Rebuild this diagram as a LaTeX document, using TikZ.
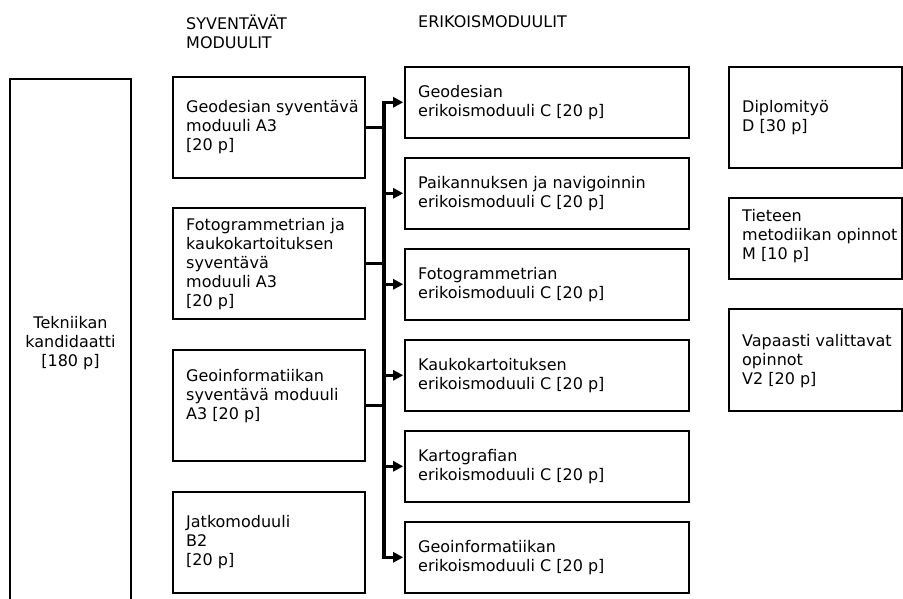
\documentclass[tikz,border=0pt]{standalone}
\usepackage{fontspec}
\setmainfont{DejaVu Sans}
\usetikzlibrary{arrows.meta}
\begin{document}
\begin{tikzpicture}[x=1pt,y=-1pt,
  txt/.style={font=\fontsize{16}{19}\selectfont},
  box/.style={draw,line width=1.6pt,anchor=north west,inner sep=0pt},
  lbl/.style={txt,anchor=west,align=left,inner sep=0pt},
  conn/.style={line width=3.2pt},
  arr/.style={line width=3.2pt,-{Triangle[length=10pt,width=10pt]},shorten >=0.8pt}
]
\useasboundingbox (0,0) rectangle (903,599);

% headers
\node[lbl] (h1) at (186,31.5) {SYVENTÄVÄT\\MODUULIT};
\node[lbl] (h2) at (418,22) {ERIKOISMODUULIT};

% Tekniikan kandidaatti
\draw[line width=1.6pt] (10,602) -- (10,79) -- (131,79) -- (131,602);
\node[txt,align=center,inner sep=0pt] (tk) at (70.5,343) {Tekniikan\\kandidaatti\\{[180 p]}};

% left column
\node[box,minimum width=192pt,minimum height=101pt] (A) at (172,76) {};
\node[box,minimum width=192pt,minimum height=111pt] (B) at (172,207) {};
\node[box,minimum width=192pt,minimum height=111pt] (C) at (172,349) {};
\node[box,minimum width=192pt,minimum height=101pt] (D) at (172,491) {};
\node[lbl] (At) at (186,127.5) {Geodesian syventävä\\moduuli A3\\{[20 p]}};
\node[lbl] (Bt) at (186,264) {Fotogrammetrian ja\\kaukokartoituksen\\syventävä\\moduuli A3\\{[20 p]}};
\node[lbl] (Ct) at (186,396) {Geoinformatiikan\\syventävä moduuli\\A3 [20 p]};
\node[lbl] (Dt) at (186,542) {Jatkomoduuli\\B2\\{[20 p]}};

% middle column
\foreach \i/\y/\t in {1/66/{Geodesian\\erikoismoduuli C [20 p]},
                      2/157/{Paikannuksen ja navigoinnin\\erikoismoduuli C [20 p]},
                      3/248/{Fotogrammetrian\\erikoismoduuli C [20 p]},
                      4/339/{Kaukokartoituksen\\erikoismoduuli C [20 p]},
                      5/430/{Kartografian\\erikoismoduuli C [20 p]},
                      6/521/{Geoinformatiikan\\erikoismoduuli C [20 p]}}{
  \node[box,minimum width=284pt,minimum height=71pt] (M\i) at (404,\y) {};
  \node[lbl] (M\i t) at (418,\y+36.5) {\t};
}

% right column
\node[box,minimum width=173pt,minimum height=101pt] (R1) at (728,66) {};
\node[box,minimum width=173pt,minimum height=81pt] (R2) at (728,197) {};
\node[box,minimum width=173pt,minimum height=102pt] (R3) at (728,308) {};
\node[lbl] (R1t) at (742,117.5) {Diplomityö\\D [30 p]};
\node[lbl] (R2t) at (742,236) {Tieteen\\metodiikan opinnot\\M [10 p]};
\node[lbl] (R3t) at (742,361) {Vapaasti valittavat\\opinnot\\V2 [20 p]};

% bus
\coordinate (bt) at (384,101.5);
\coordinate (bb) at (384,556.5);
\draw[conn] (bt) -- (bb);
\draw[conn] (A.east) -- (A.east -| bt);
\draw[conn] (B.east) -- (B.east -| bt);
\draw[conn,line width=2.4pt] (C.east) -- (C.east -| bt);
\foreach \i in {1,...,6}{
  \draw[arr] ([xshift=-1.6pt]bt |- M\i.west) -- (M\i.west);
}
\end{tikzpicture}
\end{document}
